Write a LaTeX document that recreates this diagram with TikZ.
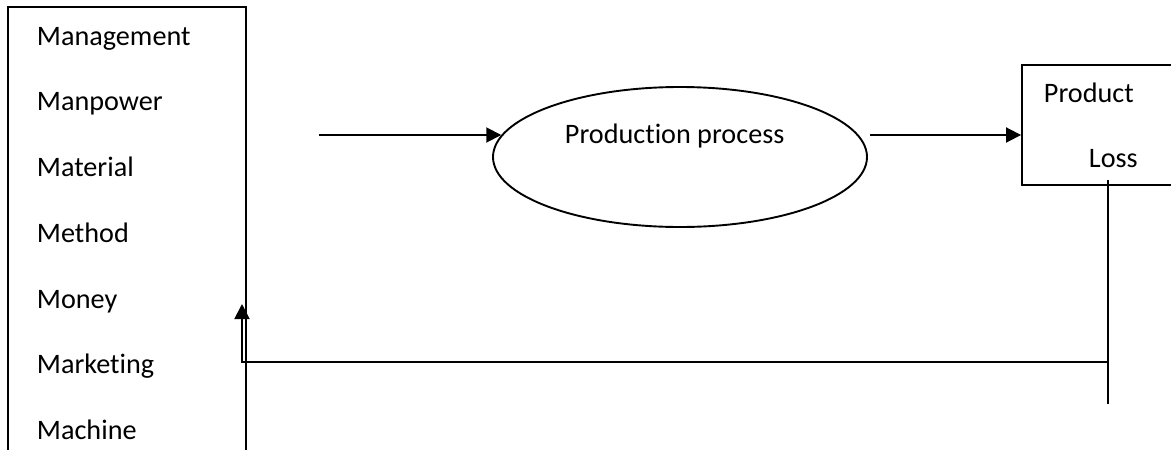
\documentclass[tikz,border=0pt]{standalone}
\usepackage{fontspec}
\setmainfont[Ligatures={NoCommon}]{Carlito}
\usetikzlibrary{arrows.meta,shapes.geometric}
\begin{document}
\begin{tikzpicture}[x=1pt,y=-1pt,
  line width=1.9pt,
  lbl/.style={anchor=base west,inner sep=0pt,font=\fontsize{28.2}{32}\selectfont},
  arr/.style={-{Triangle[length=15pt,width=15pt]}},
  boxshape/.style={draw,rectangle,inner sep=0pt}]
\useasboundingbox (0,0) rectangle (1171,450);
\clip (0,0) rectangle (1171,450);
\fill[white] (0,0) rectangle (1171,450);
% left box
\node[boxshape,minimum width=238pt,minimum height=456pt] (lbox) at (127,235) {};
\node[lbl] (t1) at (36,45) {Management};
\node[lbl] (t2) at (36,110) {Manpower};
\node[lbl] (t3) at (36,176) {Material};
\node[lbl] (t4) at (36,242) {Method};
\node[lbl] (t5) at (36,308) {Money};
\node[lbl] (t6) at (36,373) {Marketing};
\node[lbl] (t7) at (36,439) {Machine};
% ellipse
\node[draw,ellipse,minimum width=374pt,minimum height=140pt,inner sep=0pt] (proc) at (680,157) {};
\node[lbl] (ptext) at (564,143) {Production process};
% right box
\node[boxshape,minimum width=164pt,minimum height=120pt] (rbox) at (1104,125) {};
\node[lbl] (product) at (1043,102) {Product};
\node[lbl] (loss) at (1088,167) {Loss};
% connectors
\coordinate (in1) at (319,135);
\coordinate (out1) at (870,135);
\draw[arr] (in1) -- (in1 -| proc.173);
\draw[arr] (out1) -- (out1 -| rbox.west);
\coordinate (lossTop) at (1108,180);
\coordinate (lossBot) at (1108,404);
\coordinate (lossJ) at (1108,362);
\coordinate (fbCorner) at (242,362);
\coordinate (fbTip) at (242,304);
\draw (lossTop) -- (lossBot);
\draw[arr] (lossJ) -- (fbCorner) -- (fbTip);
\end{tikzpicture}
\end{document}
